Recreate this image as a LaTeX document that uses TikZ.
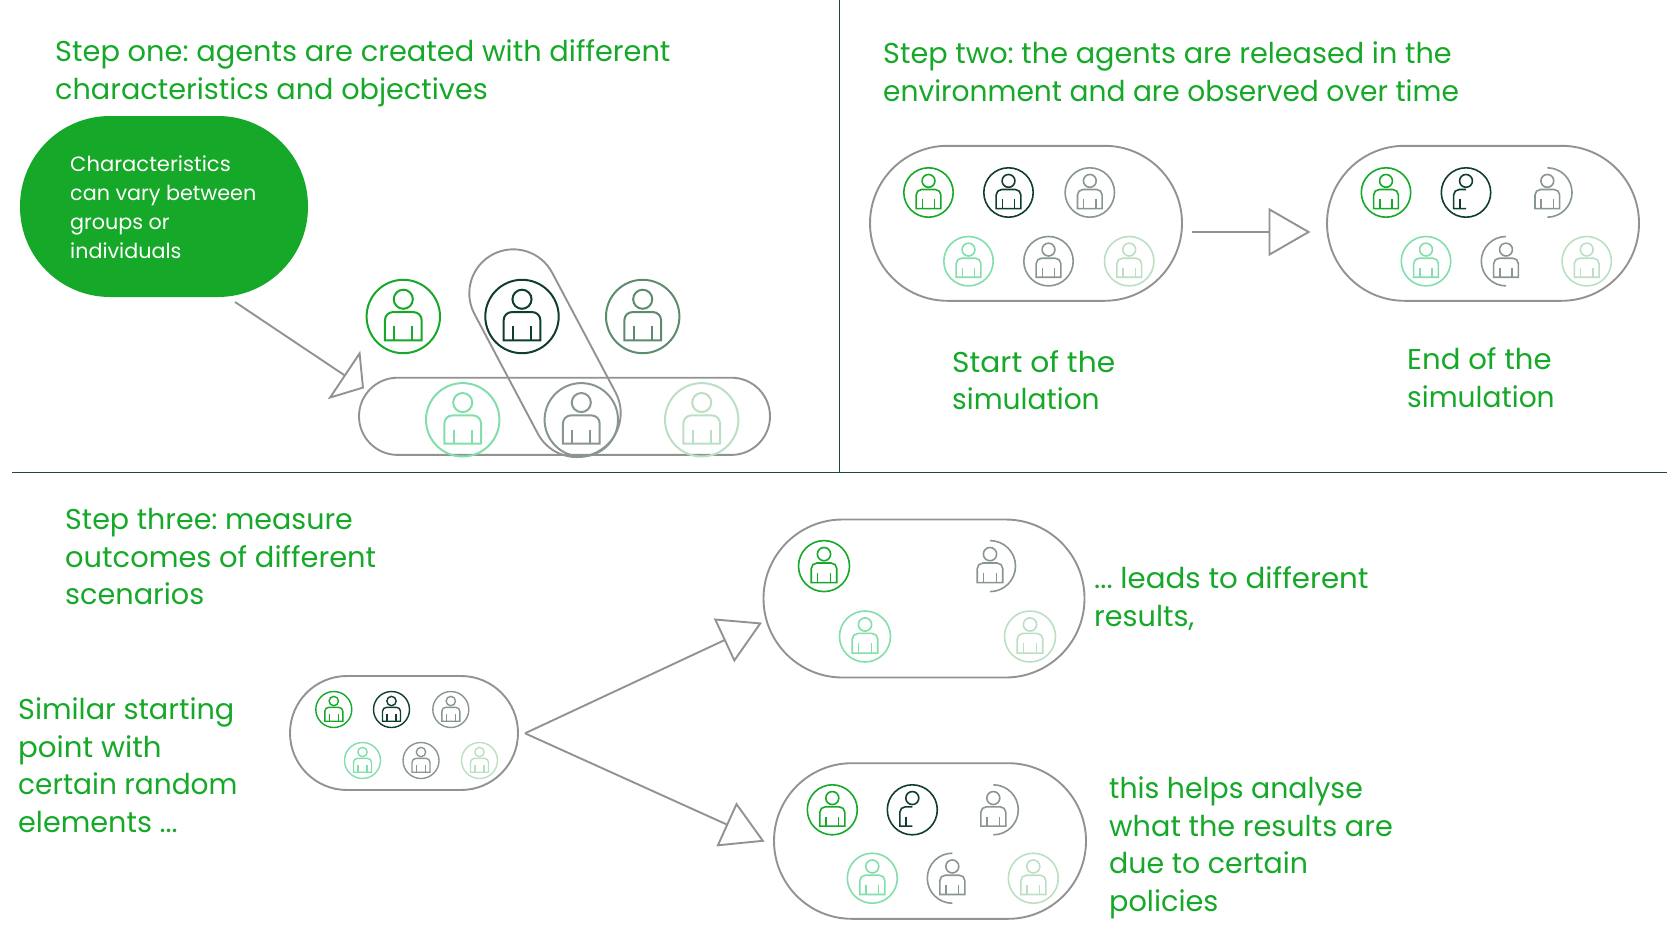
\documentclass[tikz,border=0pt]{standalone}
\usepackage{graphicx}
\usepackage{fontspec}
\setmainfont{Poppins}
\usetikzlibrary{arrows.meta}
\definecolor{txtgreen}{HTML}{16A828}
\definecolor{pgrey}{HTML}{929292}
\definecolor{pdark}{HTML}{0F3D2E}
\definecolor{pmoss}{HTML}{5E8A6E}
\definecolor{plight}{HTML}{82DEAB}
\definecolor{pash}{HTML}{88968F}
\definecolor{ppale}{HTML}{BCDFC4}
\definecolor{rulec}{HTML}{1F4A3A}
\frenchspacing
\newcommand{\xs}[2]{\scalebox{#1}[1]{#2}}
\tikzset{
  pill/.style={draw=pgrey,line width=1.9pt,rectangle,inner sep=0pt},
  steptext/.style={text=txtgreen,font=\fontsize{28.7}{37.5}\selectfont\frenchspacing,align=left,anchor=north west,inner sep=0pt},
  arrowline/.style={draw=pgrey,line width=1.9pt,-{Triangle[open,length=42pt,width=48pt,line width=1.9pt]}},
  squatarrow/.style={draw=pgrey,line width=1.9pt,-{Triangle[open,length=24pt,width=58pt,line width=1.9pt]}},
  rulel/.style={draw=rulec,line width=1pt}
}
% person: x, y, radius, colour, variant (f=full, b=left half body, r=right arc, l=left arc), line width
\newcommand{\person}[6]{%
 \begin{scope}[shift={(#1,#2+0.5)},x=#3pt,y=-#3pt,draw=#4,line width=#6pt]
  \ifx#5r \draw (0,-1) arc[start angle=90,end angle=-90,radius=#3pt];
  \else\ifx#5l \draw (0,-1) arc[start angle=90,end angle=270,radius=#3pt];
  \else \draw (0,0) circle[radius=#3pt];\fi\fi
  \draw (0,-.47) circle[radius=.26*#3pt];
  \ifx#5b
   \draw (0,.65) -- (-.5,.65) -- (-.5,.1) arc[start angle=180,end angle=90,radius=.22*#3pt] -- (0,-.12);
   \draw (-.25,.27) -- (-.25,.65);
  \else
   \draw (-.5,.65) -- (-.5,.1) arc[start angle=180,end angle=90,radius=.22*#3pt] -- (.28,-.12) arc[start angle=90,end angle=0,radius=.22*#3pt] -- (.5,.65) -- cycle;
   \draw (-.25,.27) -- (-.25,.65) (.25,.27) -- (.25,.65);
  \fi
 \end{scope}}
\begin{document}
\begin{tikzpicture}[x=1pt,y=-1pt]
\useasboundingbox (0,0) rectangle (1667,934);
% rules
\coordinate (vtop) at (839.5,0); \coordinate (vbot) at (839.5,472);
\coordinate (hl) at (12,472.5); \coordinate (hr) at (1667,472.5);
\draw[rulel] (vtop) -- (vbot);
\draw[rulel] (hl) -- (hr);
% titles
\node[steptext] (t1) at (55,39.5) {\xs{1.005}{Step one: agents are created with different}\\characteristics and objectives};
\node[steptext] (t2) at (883,41.5) {Step two: the agents are released in the\\\xs{0.978}{environment and are observed over time}};
\node[steptext] (t3) at (65,508.5) {\xs{0.993}{Step three: measure}\\\xs{1.007}{outcomes of different}\\scenarios};
\node[steptext] (t4) at (952,350) {\xs{1.034}{Start of the}\\\xs{0.979}{simulation}};
\node[steptext] (t5) at (1407,347.5) {\xs{1.015}{End of the}\\\xs{0.979}{simulation}};
\node[steptext] (t6) at (18,697.5) {Similar starting\\\xs{1.02}{point with}\\\xs{0.976}{certain random}\\elements ...};
\node[steptext] (t7) at (1094,566.5) {\xs{1.02}{... leads to different}\\results,};
\node[steptext] (t8) at (1109,776.5) {\xs{0.987}{this helps analyse}\\what the results are\\\xs{0.99}{due to certain}\\policies};
% callout
\node[fill=txtgreen,rectangle,rounded corners=90pt,minimum width=288pt,minimum height=181pt,inner sep=0pt] (call) at (164,206.5) {};
\node[text=white,font=\fontsize{20.7}{29}\selectfont,align=left,anchor=north west,inner sep=0pt] (callt) at (70,156) {\xs{1.02}{Characteristics}\\can vary between\\groups or\\individuals};
% step one
\node[pill,rounded corners=38.6pt,minimum width=411pt,minimum height=77.2pt] (hp) at (564.5,416.3) {};
\node[pill,rounded corners=44pt,minimum width=223.5pt,minimum height=88pt,rotate=-62.1] (dp) at (545,353.2) {};
\person{403.3}{316}{36.7}{txtgreen}{f}{2}
\person{522}{316}{36.7}{pdark}{f}{2}
\person{642.7}{316}{36.7}{pmoss}{f}{2}
\person{462.7}{419.3}{36.7}{plight}{f}{2}
\person{581.3}{419.3}{36.7}{pash}{f}{2}
\person{701.7}{419.3}{36.7}{ppale}{f}{2}
\coordinate (a1s) at (235,302); \coordinate (a1e) at (364,388.3);
\draw[squatarrow] (a1s) -- (a1e);
% step two
\node[pill,rounded corners=77.5pt,minimum width=312pt,minimum height=155pt] (sp) at (1026,223.3) {};
\person{928.5}{192}{24.7}{txtgreen}{f}{1.6}
\person{1008.5}{192}{24.7}{pdark}{f}{1.6}
\person{1089.8}{192}{24.7}{pash}{f}{1.6}
\person{968.5}{260.7}{24.7}{plight}{f}{1.6}
\person{1048.5}{260.7}{24.7}{pash}{f}{1.6}
\person{1129.2}{260.7}{24.7}{ppale}{f}{1.6}
\node[pill,rounded corners=77.5pt,minimum width=312pt,minimum height=155pt] (ep) at (1483,223.3) {};
\person{1386}{192}{24.7}{txtgreen}{f}{1.6}
\person{1466}{192}{24.7}{pdark}{b}{1.6}
\person{1547.3}{192}{24.7}{pash}{r}{1.6}
\person{1426}{260.7}{24.7}{plight}{f}{1.6}
\person{1506}{260.7}{24.7}{pash}{l}{1.6}
\person{1586.7}{260.7}{24.7}{ppale}{f}{1.6}
\coordinate (a2s) at (1192,232); \coordinate (a2e) at (1310.5,232);
\draw[arrowline] (a2s) -- (a2e);
% step three
\node[pill,rounded corners=57pt,minimum width=228pt,minimum height=114pt] (mp) at (404,733) {};
\person{333.8}{709}{18}{txtgreen}{f}{1.4}
\person{391.5}{709}{18}{pdark}{f}{1.4}
\person{450.8}{709}{18}{pash}{f}{1.4}
\person{362.5}{760}{18}{plight}{f}{1.4}
\person{421}{760}{18}{pash}{f}{1.4}
\person{479.5}{760}{18}{ppale}{f}{1.4}
\node[pill,rounded corners=79pt,minimum width=321pt,minimum height=158pt] (up) at (924,598.5) {};
\person{824}{565.6}{25.5}{txtgreen}{f}{1.6}
\person{990}{565.6}{25.5}{pash}{r}{1.6}
\person{865}{636}{25.5}{plight}{f}{1.6}
\person{1030}{636}{25.5}{ppale}{f}{1.6}
\node[pill,rounded corners=77.8pt,minimum width=312pt,minimum height=155.6pt] (lp) at (930,841) {};
\person{832.3}{809.3}{25}{txtgreen}{f}{1.6}
\person{912.3}{809.3}{25}{pdark}{b}{1.6}
\person{993.3}{809.3}{25}{pash}{r}{1.6}
\person{872.3}{877.7}{25}{plight}{f}{1.6}
\person{952.3}{877.7}{25}{pash}{l}{1.6}
\person{1033.3}{877.7}{25}{ppale}{f}{1.6}
\coordinate (a3s) at (525,733.3); \coordinate (a3u) at (762,622.6); \coordinate (a3l) at (764.6,841.6);
\draw[arrowline] (a3s) -- (a3u);
\draw[arrowline] (a3s) -- (a3l);
\end{tikzpicture}
\end{document}
